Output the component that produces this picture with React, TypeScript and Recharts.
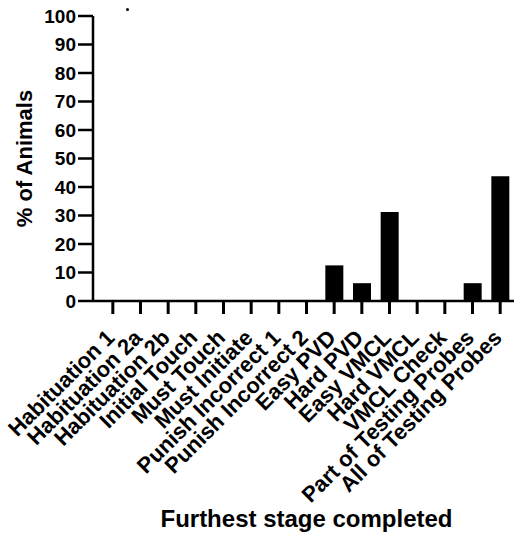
import React from "react";
import { BarChart, Bar, XAxis, YAxis } from "recharts";

const stages = [
  "Habituation 1",
  "Habituation 2a",
  "Habituation 2b",
  "Initial Touch",
  "Must Touch",
  "Must Initiate",
  "Punish Incorrect 1",
  "Punish Incorrect 2",
  "Easy PVD",
  "Hard PVD",
  "Easy VMCL",
  "Hard VMCL",
  "VMCL Check",
  "Part of Testing Probes",
  "All of Testing Probes",
];
const percentAnimals = [0, 0, 0, 0, 0, 0, 0, 0, 12.5, 6.25, 31.25, 0, 0, 6.25, 43.75];
const yTicks = [0, 10, 20, 30, 40, 50, 60, 70, 80, 90, 100];

const data = stages.map((s, i) => ({ stage: s, value: percentAnimals[i] }));

const FONT = "'Liberation Sans', Arial, Helvetica, sans-serif";
const X_TICK_LEN = 13;

const XTick = (props: any) => {
  const { x, y, payload } = props;
  return (
    <g>
      <rect x={x - 1.5} y={y - X_TICK_LEN} width={3} height={X_TICK_LEN} fill="#000" />
      <g transform={`translate(${x + 3},${y + 25})`}>
        <text
          x={0}
          y={0}
          textAnchor="end"
          transform="rotate(-45)"
          fontFamily={FONT}
          fontWeight="bold"
          fontSize={22}
          fill="#000"
        >
          {payload.value}
        </text>
      </g>
    </g>
  );
};

const YTick = (props: any) => {
  const { x, y, payload } = props;
  return (
    <text
      x={x}
      y={y}
      textAnchor="end"
      dominantBaseline="central"
      fontFamily={FONT}
      fontWeight="bold"
      fontSize={19}
      fill="#000"
    >
      {payload.value}
    </text>
  );
};

export default function App() {
  return (
    <div style={{ position: "absolute", left: 0, top: 0, width: 514, height: 534, background: "#fff" }}>
      <BarChart
        width={514}
        height={534}
        data={data}
        margin={{ top: 16, right: 0, bottom: 0, left: 0 }}
        barSize={18}
      >
        <XAxis
          dataKey="stage"
          interval={0}
          height={233}
          padding={{ left: 6, right: 0 }}
          stroke="#000"
          strokeWidth={2.5}
          tickSize={X_TICK_LEN}
          tickMargin={0}
          tickLine={false}
          tick={<XTick />}
          label={{
            content: (p: any) => {
              const vb = p.viewBox;
              return (
                <text
                  x={vb.x + 6 + (vb.width - 6) / 2}
                  y={527}
                  textAnchor="middle"
                  fontFamily={FONT}
                  fontWeight="bold"
                  fontSize={24}
                  fill="#000"
                >
                  Furthest stage completed
                </text>
              );
            },
          }}
        />
        <YAxis
          domain={[0, 100]}
          ticks={yTicks}
          width={93}
          stroke="#000"
          strokeWidth={2.5}
          tickSize={15}
          tickMargin={2}
          tickLine={{ stroke: "#000", strokeWidth: 2.5 }}
          tick={<YTick />}
          label={{
            content: (p: any) => {
              const vb = p.viewBox;
              const cy = vb.y + vb.height / 2;
              return (
                <text
                  transform={`translate(32,${cy}) rotate(-90)`}
                  textAnchor="middle"
                  fontFamily={FONT}
                  fontWeight="bold"
                  fontSize={22}
                  fill="#000"
                >
                  % of Animals
                </text>
              );
            },
          }}
        />
        <Bar dataKey="value" fill="#000" isAnimationActive={false} />
      </BarChart>
      <div
        style={{
          position: "absolute",
          left: 126,
          top: 8,
          width: 3,
          height: 3,
          borderRadius: 2,
          background: "#000",
        }}
      />
    </div>
  );
}
